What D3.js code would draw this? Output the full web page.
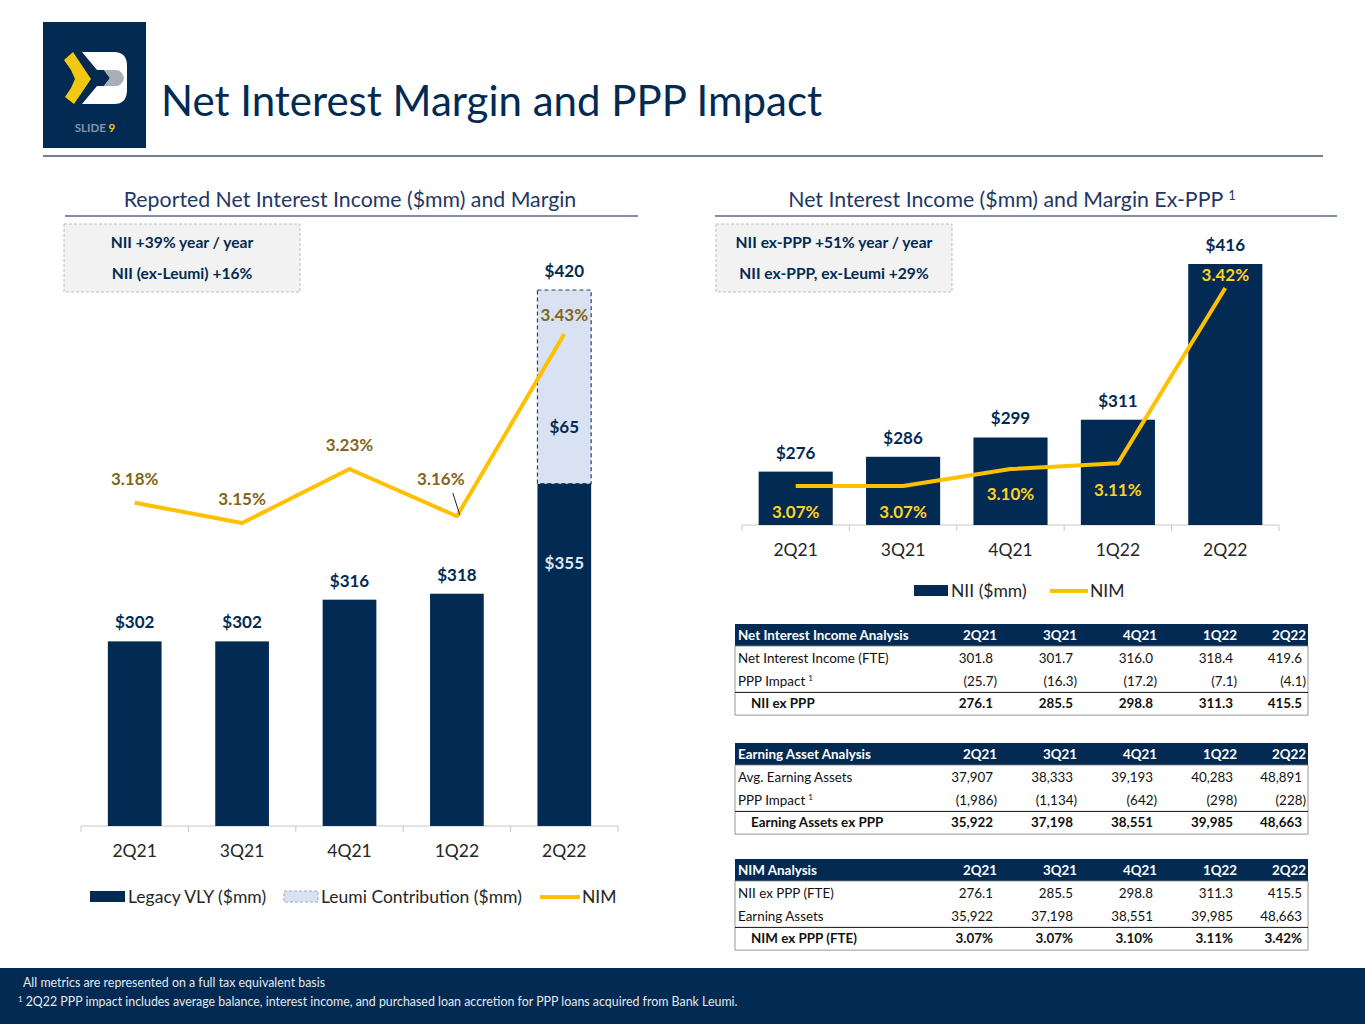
<!DOCTYPE html>
<html>
<head>
<meta charset="utf-8">
<script src="https://cdn.jsdelivr.net/npm/d3@7"></script>
<style>
  body { margin: 0; background: #fff; }
  svg { display: block; font-family: Lato, "Open Sans", sans-serif; }
</style>
</head>
<body>
<div id="chart"></div>
<script>
// data
const quarters = ["2Q21", "3Q21", "4Q21", "1Q22", "2Q22"];
const legacyNII = [302, 302, 316, 318, 355];
const leumiNII = [0, 0, 0, 0, 65];
const reportedNII = [302, 302, 316, 318, 420];
const reportedNIM = [3.18, 3.15, 3.23, 3.16, 3.43];
const niiExPPP = [276, 286, 299, 311, 416];
const nimExPPP = [3.07, 3.07, 3.10, 3.11, 3.42];

const tableNII = [
  ["Net Interest Income (FTE)", "301.8", "301.7", "316.0", "318.4", "419.6"],
  ["PPP Impact", "(25.7)", "(16.3)", "(17.2)", "(7.1)", "(4.1)"],
  ["NII ex PPP", "276.1", "285.5", "298.8", "311.3", "415.5"]
];
const tableEA = [
  ["Avg. Earning Assets", "37,907", "38,333", "39,193", "40,283", "48,891"],
  ["PPP Impact", "(1,986)", "(1,134)", "(642)", "(298)", "(228)"],
  ["Earning Assets ex PPP", "35,922", "37,198", "38,551", "39,985", "48,663"]
];
const tableNIM = [
  ["NII ex PPP (FTE)", "276.1", "285.5", "298.8", "311.3", "415.5"],
  ["Earning Assets", "35,922", "37,198", "38,551", "39,985", "48,663"],
  ["NIM ex PPP (FTE)", "3.07%", "3.07%", "3.10%", "3.11%", "3.42%"]
];

const navy = "#022a52";
const gold = "#ffc000";
const titleBlue = "#1f3864";
const labelSize = 17;
const axisSize = 17.5;

const W = 1365, H = 1024;
const svg = d3.select("#chart").append("svg").attr("width", W).attr("height", H);

// ---- header ----
const logo = svg.append("g");
logo.append("rect").attr("x", 43).attr("y", 22).attr("width", 103).attr("height", 126).attr("fill", navy);
logo.append("path").attr("fill", "#f2c811")
  .attr("d", "M64,60 L73,52 L91,79 L74,104 L65,97 L71,88 L75,79 L71,70 Z");
logo.append("path").attr("fill", "#fff")
  .attr("d", "M82,52 H114 Q127,52 127,66 V90 Q127,104 114,104 H82 L97,86 H104 L110,78 L104,70 H97 Z");
logo.append("path").attr("fill", "#a7aeb8")
  .attr("d", "M104,70 H116 Q122,70 124,78 Q122,86 116,86 H104 L110,78 Z");
logo.append("text").attr("x", 95).attr("y", 132).attr("text-anchor", "middle")
  .attr("font-size", 11.5).attr("font-weight", 700).attr("fill", "#8795ab")
  .text("SLIDE ").append("tspan").attr("fill", "#f2c811").text("9");

svg.append("text").attr("x", 161).attr("y", 116)
  .attr("font-size", 42).attr("fill", navy)
  .text("Net Interest Margin and PPP Impact");
svg.append("line").attr("x1", 43).attr("x2", 1323).attr("y1", 156).attr("y2", 156)
  .attr("stroke", "#46536b").attr("stroke-width", 1.5);

// ---- section titles & note boxes ----
function sectionTitle(cx, text, sup, x1, x2) {
  const t = svg.append("text").attr("x", cx).attr("y", 207).attr("text-anchor", "middle")
    .attr("font-size", 21.3).attr("fill", titleBlue).text(text);
  if (sup) t.append("tspan").attr("dx", 5).attr("dy", -7).attr("font-size", 13).text(sup);
  svg.append("line").attr("x1", x1).attr("x2", x2).attr("y1", 216).attr("y2", 216)
    .attr("stroke", "#59698a").attr("stroke-width", 1.3);
}
sectionTitle(350, "Reported Net Interest Income ($mm) and Margin", null, 65, 638);
sectionTitle(1012, "Net Interest Income ($mm) and Margin Ex-PPP", "1", 715, 1337);

function noteBox(x, lines) {
  svg.append("rect").attr("x", x).attr("y", 224).attr("width", 236).attr("height", 68)
    .attr("fill", "#f2f2f2").attr("stroke", "#bdbdbd").attr("stroke-dasharray", "3,2");
  lines.forEach((l, i) => {
    svg.append("text").attr("x", x + 118).attr("y", 243 + i * 31).attr("dy", "0.35em")
      .attr("text-anchor", "middle").attr("font-size", 15.6).attr("font-weight", 700)
      .attr("fill", navy).text(l);
  });
}
noteBox(64, ["NII +39% year / year", "NII (ex-Leumi) +16%"]);
noteBox(716, ["NII ex-PPP +51% year / year", "NII ex-PPP, ex-Leumi +29%"]);

// ---- shared axis helper ----
function drawXAxis(x, y0) {
  const g = svg.append("g");
  const r = x.range();
  g.append("line").attr("x1", r[0]).attr("x2", r[1]).attr("y1", y0).attr("y2", y0)
    .attr("stroke", "#c8c8c8");
  const bounds = d3.range(quarters.length + 1).map(i => r[0] + i * x.step());
  g.selectAll(".tk").data(bounds).enter().append("line")
    .attr("x1", d => d).attr("x2", d => d).attr("y1", y0).attr("y2", y0 + 6)
    .attr("stroke", "#c8c8c8");
  g.selectAll(".xl").data(quarters).enter().append("text")
    .attr("x", d => x(d) + x.bandwidth() / 2).attr("y", y0 + 25).attr("dy", "0.35em")
    .attr("text-anchor", "middle").attr("font-size", axisSize).attr("fill", "#262626")
    .text(d => d);
}

// ---- left chart: reported NII ----
const xL = d3.scaleBand().domain(quarters).range([81, 618]).paddingInner(0.5).paddingOuter(0.25);
const yL = d3.scaleLinear().domain([240, 420]).range([826, 290]);
const nimL = d3.scaleLinear().domain([3.15, 3.43]).range([523, 334]);
const cxL = q => xL(q) + xL.bandwidth() / 2;

drawXAxis(xL, 826);

const left = svg.append("g");
left.selectAll(".legacy").data(quarters).enter().append("rect")
  .attr("x", d => xL(d)).attr("width", xL.bandwidth())
  .attr("y", (d, i) => yL(legacyNII[i])).attr("height", (d, i) => yL(240) - yL(legacyNII[i]))
  .attr("fill", navy);
left.selectAll(".leumi").data(quarters.filter((d, i) => leumiNII[i] > 0)).enter().append("rect")
  .attr("x", d => xL(d)).attr("width", xL.bandwidth())
  .attr("y", d => yL(reportedNII[quarters.indexOf(d)]))
  .attr("height", d => { const i = quarters.indexOf(d); return yL(legacyNII[i]) - yL(reportedNII[i]); })
  .attr("fill", "#d9e2f3").attr("stroke", "#24406b").attr("stroke-width", 1.2).attr("stroke-dasharray", "4,3");

// bar value labels
quarters.forEach((q, i) => {
  if (leumiNII[i] > 0) {
    left.append("text").attr("x", cxL(q)).attr("y", yL(legacyNII[i]) + 79).attr("dy", "0.35em")
      .attr("text-anchor", "middle").attr("font-size", labelSize).attr("font-weight", 700)
      .attr("fill", "#dfe6f0").text("$" + legacyNII[i]);
    left.append("text").attr("x", cxL(q)).attr("y", yL(legacyNII[i]) - 57).attr("dy", "0.35em")
      .attr("text-anchor", "middle").attr("font-size", labelSize).attr("font-weight", 700)
      .attr("fill", navy).text("$" + leumiNII[i]);
  }
  left.append("text").attr("x", cxL(q)).attr("y", yL(reportedNII[i]) - 19).attr("dy", "0.35em")
    .attr("text-anchor", "middle").attr("font-size", labelSize).attr("font-weight", 700)
    .attr("fill", navy).text("$" + reportedNII[i]);
});

const lineL = d3.line().x((d, i) => cxL(quarters[i])).y(d => nimL(d));
left.append("path").attr("d", lineL(reportedNIM)).attr("fill", "none")
  .attr("stroke", gold).attr("stroke-width", 4).attr("stroke-linejoin", "round");

const nimLabelDx = [0, 0, 0, -16, 0];
const nimLabelDy = [-24, -24, -24, -37, -19];
reportedNIM.forEach((v, i) => {
  left.append("text").attr("x", cxL(quarters[i]) + nimLabelDx[i]).attr("y", nimL(v) + nimLabelDy[i])
    .attr("dy", "0.35em").attr("text-anchor", "middle").attr("font-size", labelSize)
    .attr("font-weight", 700).attr("fill", "#846619").text(v.toFixed(2) + "%");
});
// leader line for 1Q22
left.append("line").attr("x1", cxL("1Q22") - 4).attr("y1", nimL(3.16) - 23)
  .attr("x2", cxL("1Q22") + 3).attr("y2", nimL(3.16) - 1).attr("stroke", "#222").attr("stroke-width", 1);

// left legend
const legL = svg.append("g").attr("font-size", axisSize).attr("fill", "#262626");
legL.append("rect").attr("x", 90).attr("y", 891).attr("width", 35).attr("height", 11).attr("fill", navy);
legL.append("text").attr("x", 128).attr("y", 897).attr("dy", "0.35em").text("Legacy VLY ($mm)");
legL.append("rect").attr("x", 284).attr("y", 891).attr("width", 34).attr("height", 11)
  .attr("fill", "#d9e2f3").attr("stroke", "#9aaac2").attr("stroke-dasharray", "3,2");
legL.append("text").attr("x", 321).attr("y", 897).attr("dy", "0.35em").text("Leumi Contribution ($mm)");
legL.append("line").attr("x1", 540).attr("x2", 580).attr("y1", 897).attr("y2", 897)
  .attr("stroke", gold).attr("stroke-width", 4);
legL.append("text").attr("x", 582).attr("y", 897).attr("dy", "0.35em").text("NIM");

// ---- right chart: NII ex-PPP ----
const xR = d3.scaleBand().domain(quarters).range([742, 1279]).paddingInner(0.31).paddingOuter(0.155);
const yR = d3.scaleLinear().domain([240, 416]).range([525, 264]);
const nimR = d3.scaleLinear().domain([3.07, 3.42]).range([486, 288]);
const cxR = q => xR(q) + xR.bandwidth() / 2;

drawXAxis(xR, 525);

const right = svg.append("g");
right.selectAll(".bar").data(quarters).enter().append("rect")
  .attr("x", d => xR(d)).attr("width", xR.bandwidth())
  .attr("y", (d, i) => yR(niiExPPP[i])).attr("height", (d, i) => yR(240) - yR(niiExPPP[i]))
  .attr("fill", navy);
quarters.forEach((q, i) => {
  right.append("text").attr("x", cxR(q)).attr("y", yR(niiExPPP[i]) - 19).attr("dy", "0.35em")
    .attr("text-anchor", "middle").attr("font-size", labelSize).attr("font-weight", 700)
    .attr("fill", navy).text("$" + niiExPPP[i]);
});
const lineR = d3.line().x((d, i) => cxR(quarters[i])).y(d => nimR(d));
right.append("path").attr("d", lineR(nimExPPP)).attr("fill", "none")
  .attr("stroke", gold).attr("stroke-width", 4).attr("stroke-linejoin", "round");
const nimRDy = [26, 26, 25, 27, -13];
nimExPPP.forEach((v, i) => {
  right.append("text").attr("x", cxR(quarters[i])).attr("y", nimR(v) + nimRDy[i]).attr("dy", "0.35em")
    .attr("text-anchor", "middle").attr("font-size", labelSize).attr("font-weight", 700)
    .attr("fill", "#ffd21f").text(v.toFixed(2) + "%");
});

const legR = svg.append("g").attr("font-size", axisSize).attr("fill", "#262626");
legR.append("rect").attr("x", 914).attr("y", 585).attr("width", 34).attr("height", 11).attr("fill", navy);
legR.append("text").attr("x", 951).attr("y", 591).attr("dy", "0.35em").text("NII ($mm)");
legR.append("line").attr("x1", 1050).attr("x2", 1088).attr("y1", 591).attr("y2", 591)
  .attr("stroke", gold).attr("stroke-width", 4);
legR.append("text").attr("x", 1090).attr("y", 591).attr("dy", "0.35em").text("NIM");

// ---- tables ----
const colRight = [997, 1077, 1157, 1237, 1306];
function drawTable(top, title, rows, supRow) {
  const g = svg.append("g").attr("font-size", 13.4);
  const x0 = 735, x1 = 1308, hh = 22, rh = 22.7;
  g.append("rect").attr("x", x0).attr("y", top).attr("width", x1 - x0).attr("height", hh).attr("fill", navy);
  g.append("text").attr("x", 738).attr("y", top + hh / 2).attr("dy", "0.35em")
    .attr("fill", "#fff").attr("font-weight", 700).text(title);
  quarters.forEach((q, j) => {
    g.append("text").attr("x", colRight[j]).attr("y", top + hh / 2).attr("dy", "0.35em")
      .attr("text-anchor", "end").attr("fill", "#fff").attr("font-weight", 700).text(q);
  });
  const bodyTop = top + hh + 1;
  const bottom = bodyTop + rh * rows.length;
  g.append("rect").attr("x", x0).attr("y", top + hh).attr("width", x1 - x0).attr("height", bottom - top - hh)
    .attr("fill", "none").attr("stroke", "#7f7f7f").attr("stroke-width", 0.8);
  g.append("line").attr("x1", x0).attr("x2", x1)
    .attr("y1", bodyTop + rh * 2).attr("y2", bodyTop + rh * 2).attr("stroke", "#111").attr("stroke-width", 1);
  rows.forEach((r, i) => {
    const y = bodyTop + rh * i + rh / 2;
    const bold = i === rows.length - 1;
    const lab = g.append("text").attr("x", bold ? 751 : 738).attr("y", y).attr("dy", "0.35em")
      .attr("fill", "#111").attr("font-weight", bold ? 700 : 400).text(r[0]);
    if (i === supRow) lab.append("tspan").attr("dx", 3).attr("dy", -5).attr("font-size", 8).text("1");
    r.slice(1).forEach((v, j) => {
      const neg = v.startsWith("(");
      g.append("text").attr("x", colRight[j] - (neg ? 0 : 4)).attr("y", y).attr("dy", "0.35em")
        .attr("text-anchor", "end").attr("fill", "#111").attr("font-weight", bold ? 700 : 400).text(v);
    });
  });
}
drawTable(624, "Net Interest Income Analysis", tableNII, 1);
drawTable(743, "Earning Asset Analysis", tableEA, 1);
drawTable(859, "NIM Analysis", tableNIM, -1);

// ---- footer ----
svg.append("rect").attr("x", 0).attr("y", 968).attr("width", W).attr("height", H - 968).attr("fill", navy);
svg.append("text").attr("x", 23).attr("y", 983).attr("dy", "0.35em").attr("font-size", 12.4)
  .attr("fill", "#e4e9f0").text("All metrics are represented on a full tax equivalent basis");
const fn = svg.append("text").attr("x", 18).attr("y", 1004).attr("dy", "0.35em").attr("font-size", 12.4)
  .attr("fill", "#e4e9f0");
fn.append("tspan").attr("font-size", 8).attr("dy", "-0.2em").text("1");
fn.append("tspan").attr("dx", 3).attr("dy", "0.25em")
  .text("2Q22 PPP impact includes average balance, interest income, and purchased loan accretion for PPP loans acquired from Bank Leumi.");
</script>
</body>
</html>
